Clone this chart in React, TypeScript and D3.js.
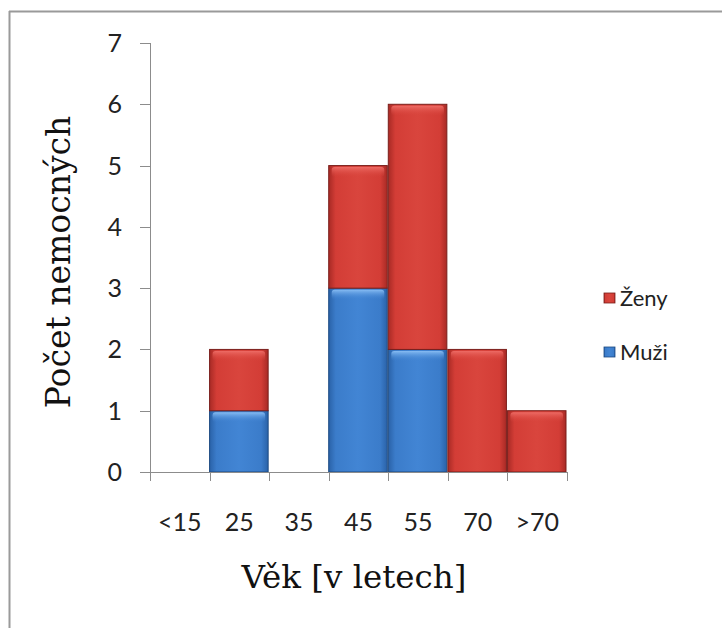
import React from "react";
import * as d3 from "d3";

const categories = ["<15", "25", "35", "45", "55", "70", ">70"];
const muzi = [0, 1, 0, 3, 2, 0, 0];
const zeny = [0, 1, 0, 2, 4, 2, 1];
const yTicks = [0, 1, 2, 3, 4, 5, 6, 7];
const seriesNames = ["Ženy", "Muži"];

const W = 722;
const H = 628;

export default function App() {
  const x = d3.scaleBand<string>().domain(categories).range([150, 567]).padding(0);
  const y = d3.scaleLinear().domain([0, 7]).range([472, 43]);
  const bw = x.bandwidth();

  const bars: { cat: string; y0: number; y1: number; kind: "blue" | "red" }[] = [];
  categories.forEach((c, i) => {
    if (muzi[i] > 0) bars.push({ cat: c, y0: 0, y1: muzi[i], kind: "blue" });
    if (zeny[i] > 0) bars.push({ cat: c, y0: muzi[i], y1: muzi[i] + zeny[i], kind: "red" });
  });

  const boundaries = categories.map((c) => x(c)!).concat([x(categories[categories.length - 1])! + bw]);

  const sans = "Lato, 'Open Sans', sans-serif";
  const serif = "'DejaVu Serif', Georgia, serif";

  return (
    <svg width={W} height={H} style={{ position: "absolute", left: 0, top: 0, background: "#fff" }}>
      <defs>
        <linearGradient id="redH" x1="0" x2="1" y1="0" y2="0">
          <stop offset="0" stopColor="#a82a25" />
          <stop offset="0.12" stopColor="#d33d36" />
          <stop offset="0.5" stopColor="#d9453d" />
          <stop offset="0.88" stopColor="#d33d36" />
          <stop offset="1" stopColor="#a82a25" />
        </linearGradient>
        <linearGradient id="blueH" x1="0" x2="1" y1="0" y2="0">
          <stop offset="0" stopColor="#2a62a8" />
          <stop offset="0.12" stopColor="#3b7cca" />
          <stop offset="0.5" stopColor="#4285d4" />
          <stop offset="0.88" stopColor="#3b7cca" />
          <stop offset="1" stopColor="#2a62a8" />
        </linearGradient>
        <linearGradient id="redTop" x1="0" x2="0" y1="0" y2="1">
          <stop offset="0" stopColor="#f0706a" stopOpacity="0.9" />
          <stop offset="1" stopColor="#d9453d" stopOpacity="0" />
        </linearGradient>
        <linearGradient id="blueTop" x1="0" x2="0" y1="0" y2="1">
          <stop offset="0" stopColor="#8cc0f5" stopOpacity="0.95" />
          <stop offset="1" stopColor="#4285d4" stopOpacity="0" />
        </linearGradient>
      </defs>

      {/* frame */}
      <line x1={9.5} y1={11} x2={9.5} y2={H} stroke="#9a9a9a" strokeWidth={2} />
      <line x1={9} y1={11.5} x2={W} y2={11.5} stroke="#9a9a9a" strokeWidth={2} />

      {/* bars */}
      {bars.map((b, i) => {
        const bx = x(b.cat)!;
        const top = y(b.y1);
        const bot = y(b.y0);
        const h = bot - top;
        return (
          <g key={i}>
            <rect x={bx} y={top} width={bw - 1} height={h}
              fill={b.kind === "red" ? "url(#redH)" : "url(#blueH)"}
              stroke={b.kind === "red" ? "#7a1f1b" : "#1d4a82"} strokeWidth={1} />
            <rect x={bx + 3} y={top + 1.5} width={bw - 7} height={Math.min(10, h - 3)} rx={3}
              fill={b.kind === "red" ? "url(#redTop)" : "url(#blueTop)"} />
          </g>
        );
      })}

      {/* y axis */}
      <line x1={150.5} y1={y(7)} x2={150.5} y2={y(0)} stroke="#8c8c8c" strokeWidth={1} />
      {yTicks.map((t) => (
        <g key={t}>
          <line x1={140} x2={150.5} y1={Math.round(y(t)) + 0.5} y2={Math.round(y(t)) + 0.5} stroke="#8c8c8c" />
          <text x={122} y={y(t) + 9} textAnchor="end" fontFamily={sans} fontSize={25} fill="#222">{t}</text>
        </g>
      ))}

      {/* x axis */}
      <line x1={150} x2={567} y1={472.5} y2={472.5} stroke="#8c8c8c" />
      {boundaries.map((bx, i) => (
        <line key={i} x1={Math.round(bx) + 0.5} x2={Math.round(bx) + 0.5} y1={472} y2={481} stroke="#8c8c8c" />
      ))}
      {categories.map((c) => (
        <text key={c} x={x(c)! + bw / 2} y={531} textAnchor="middle" fontFamily={sans} fontSize={25} fill="#222">{c}</text>
      ))}

      {/* axis titles */}
      <text x={354} y={588} textAnchor="middle" fontFamily={serif} fontSize={32.5} fill="#111">Věk [v letech]</text>
      <text transform={`translate(70, 262) rotate(-90)`} textAnchor="middle" fontFamily={serif} fontSize={33} fill="#111">Počet nemocných</text>

      {/* legend */}
      {seriesNames.map((s, i) => {
        const ly = 298 + i * 54;
        const kind = s === "Ženy" ? "red" : "blue";
        return (
          <g key={s}>
            <rect x={604} y={ly - 5} width={11} height={10}
              fill={kind === "red" ? "url(#redH)" : "url(#blueH)"}
              stroke={kind === "red" ? "#7a1f1b" : "#1d4a82"} strokeWidth={0.8} />
            <text x={620} y={ly + 8} fontFamily={sans} fontSize={22} fill="#222">{s}</text>
          </g>
        );
      })}
    </svg>
  );
}
